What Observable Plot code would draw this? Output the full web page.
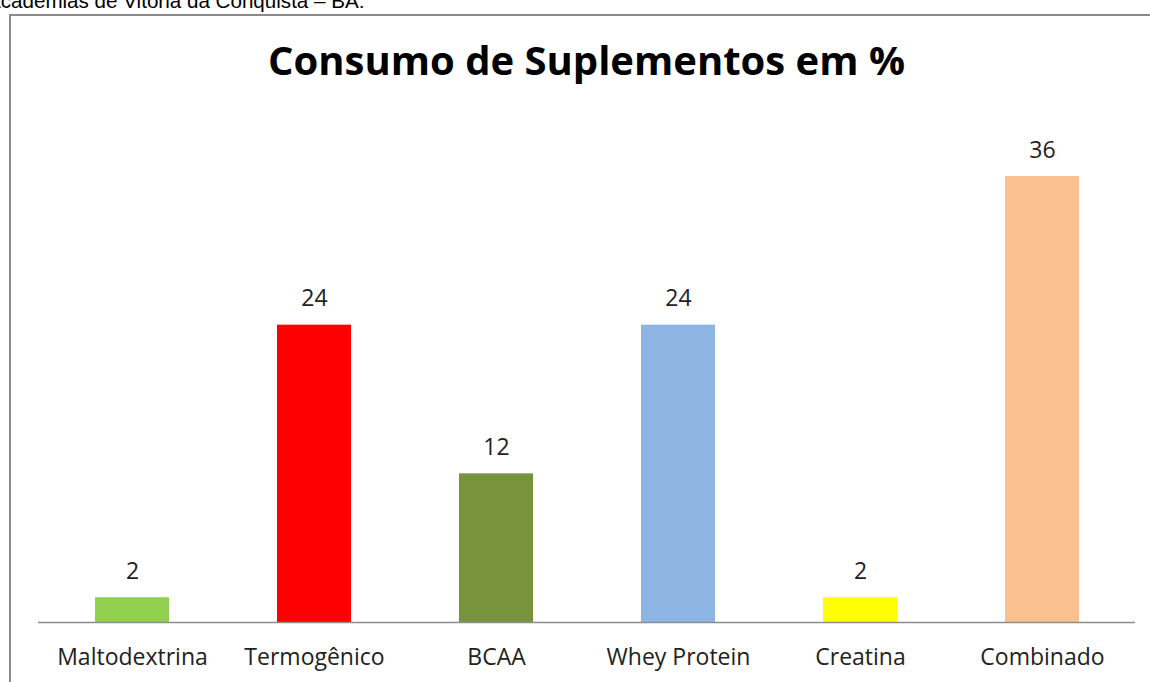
<!DOCTYPE html>
<html>
<head>
<meta charset="utf-8">
<script src="https://cdn.jsdelivr.net/npm/d3@7"></script>
<script src="https://cdn.jsdelivr.net/npm/@observablehq/plot@0.6"></script>
<style>
  html, body { margin: 0; padding: 0; background: #fff; overflow: hidden; }
  #wrap { position: relative; width: 1150px; height: 682px; overflow: hidden; }
  #caption { position: absolute; left: -13px; top: -11px; font-family: "Liberation Sans", Arial, sans-serif; font-size: 20.6px; color: #000; white-space: nowrap; }
  #frame { position: absolute; left: 8.5px; top: 13.5px; width: 1400px; height: 900px; border-top: 2px solid #8a8a8a; border-left: 2px solid #8a8a8a; }
  #title { position: absolute; left: 0; width: 1173px; top: 32px; text-align: center; font-family: "Open Sans", sans-serif; font-weight: 700; font-size: 40px; color: #000; white-space: nowrap; }
  #chart { position: absolute; left: 0; top: 0; }
</style>
</head>
<body>
<div id="wrap">
  <div id="caption">Academias de Vitória da Conquista – BA.</div>
  <div id="frame"></div>
  <div id="chart"></div>
  <div id="title">Consumo de Suplementos em %</div>
</div>
<script>
const categories = ["Maltodextrina", "Termogênico", "BCAA", "Whey Protein", "Creatina", "Combinado"];
const values = [2, 24, 12, 24, 2, 36];
const colors = ["#92D050", "#FF0000", "#77933C", "#8DB4E2", "#FFFF00", "#FAC090"];

const data = categories.map((c, i) => ({category: c, value: values[i], color: colors[i]}));

const plot = Plot.plot({
  width: 1150,
  height: 682,
  marginLeft: 38,
  marginRight: 15,
  marginTop: 176,
  marginBottom: 60,
  style: {fontFamily: "'Open Sans', sans-serif", background: "transparent", overflow: "visible"},
  x: {domain: categories, paddingInner: 0.595, paddingOuter: 0.2975, label: null},
  y: {domain: [0, 36], axis: null},
  marks: [
    Plot.barY(data, {x: "category", y: "value", fill: "color"}),
    Plot.ruleY([0], {stroke: "#8c8c8c", strokeWidth: 1.5}),
    Plot.text(data, {x: "category", y: "value", text: d => String(d.value), lineAnchor: "bottom", dy: -19, fontSize: 23, fill: "#222"}),
    Plot.axisX({tickSize: 0, tickPadding: 26, fontSize: 23, fill: "#222", label: null})
  ]
});
document.getElementById("chart").appendChild(plot);
</script>
</body>
</html>
